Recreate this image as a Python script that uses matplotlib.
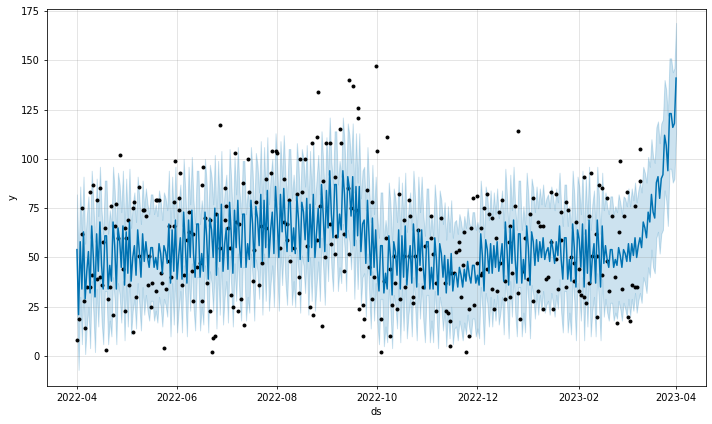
import matplotlib
matplotlib.use("Agg")
import matplotlib.pyplot as plt
import matplotlib.dates as mdates
import pandas as pd

start = pd.Timestamp("2022-04-01")

# forecast (yhat), one value per day from 2022-04-01 to 2023-04-01, rows of 7 days
yhat = [
    54, 21, 58, 34, 63, 29, 43,
    53, 32, 66, 50, 30, 62, 43,
    68, 46, 34, 61, 61, 34, 46,
    38, 68, 56, 34, 65, 59, 45,
    66, 36, 63, 42, 68, 38, 50,
    56, 41, 64, 53, 40, 62, 48,
    58, 50, 45, 55, 55, 45, 50,
    44, 57, 52, 42, 56, 53, 47,
    67, 37, 64, 43, 69, 39, 51,
    60, 39, 73, 57, 37, 69, 50,
    74, 52, 40, 67, 67, 40, 52,
    43, 73, 61, 39, 70, 64, 50,
    75, 41, 72, 48, 77, 43, 57,
    65, 44, 78, 62, 42, 74, 55,
    79, 57, 45, 72, 72, 45, 57,
    49, 79, 67, 45, 76, 70, 56,
    82, 48, 79, 55, 84, 50, 64,
    73, 52, 86, 70, 50, 82, 63,
    85, 65, 53, 78, 78, 53, 65,
    52, 81, 69, 49, 78, 73, 59,
    80, 48, 77, 55, 82, 50, 63,
    75, 55, 87, 72, 53, 84, 65,
    94, 72, 60, 87, 87, 60, 72,
    64, 94, 82, 60, 91, 85, 71,
    91, 56, 86, 61, 86, 53, 67,
    69, 47, 79, 60, 41, 70, 45,
    64, 44, 33, 56, 56, 32, 42,
    34, 61, 50, 31, 58, 53, 41,
    64, 34, 61, 40, 66, 36, 48,
    56, 37, 67, 53, 35, 64, 46,
    64, 45, 34, 58, 58, 34, 45,
    34, 60, 49, 31, 57, 52, 40,
    51, 32, 49, 36, 52, 33, 41,
    42, 35, 45, 41, 35, 44, 38,
    48, 41, 37, 46, 46, 37, 41,
    36, 62, 51, 33, 59, 54, 42,
    57, 42, 56, 45, 58, 43, 49,
    57, 38, 68, 54, 36, 65, 47,
    69, 49, 37, 62, 62, 37, 49,
    39, 66, 55, 36, 63, 58, 46,
    59, 48, 58, 50, 60, 49, 53,
    55, 48, 59, 54, 47, 58, 51,
    66, 49, 39, 60, 60, 39, 49,
    38, 67, 55, 35, 64, 59, 45,
    67, 35, 64, 42, 69, 37, 50,
    57, 37, 69, 54, 35, 66, 47,
    56, 49, 45, 54, 54, 45, 49,
    46, 55, 51, 45, 54, 52, 48,
    57, 48, 57, 51, 60, 50, 56,
    60, 55, 68, 65, 60, 73, 68,
    82, 73, 70, 88, 91, 80, 90,
    92, 112, 107, 94, 123, 123, 116,
    118, 141,
]

# half width of the uncertainty interval, per month (Apr 2022 .. Apr 2023)
band_half = [28, 27, 27, 27, 27, 27, 27, 27, 27, 27, 27, 28, 28]

# observed points: days after 2022-04-01 and value
obs_day = [
    0, 1, 3, 3, 4, 5, 6, 8, 8, 9, 10, 12, 12, 14, 14, 15, 16, 17, 18, 19,
    20, 21, 22, 23, 24, 25, 26, 28, 29, 29, 30, 31, 32, 34, 34, 35, 36, 38, 38, 40,
    41, 42, 43, 44, 45, 46, 48, 49, 48, 50, 51, 52, 53, 54, 56, 56, 57, 59, 59, 60,
    62, 62, 63, 64, 65, 67, 68, 68, 70, 71, 71, 73, 75, 76, 76, 77, 78, 79, 81, 81,
    82, 83, 84, 85, 87, 87, 90, 90, 91, 92, 93,
    94, 95, 96, 97, 98, 99, 100, 101, 102, 104, 105, 107, 108, 109, 111, 112, 113, 115, 115, 118,
    119, 121, 122, 124, 126, 126, 128, 128, 129, 130, 132, 134, 135, 135, 136, 137, 139, 140,
    142, 143, 144, 146, 146, 147, 148, 149, 150, 151, 152, 154, 154, 155, 157, 157, 158, 160, 161, 163,
    163, 165, 166, 166, 167, 168, 170, 171, 171, 172, 174, 174, 175, 177, 178, 180, 180, 181, 182, 183,
    185, 185,
    187, 188, 189, 191, 191, 192, 193, 194, 195, 196, 197, 199, 199, 200, 202, 202, 203, 205, 205, 206,
    208, 209, 211, 212, 216, 216, 217, 219, 219, 222, 224, 225, 226, 227, 227, 228, 230, 231, 233, 233,
    234, 235,
    236, 237, 239, 239, 240, 241, 242, 244, 244, 246, 246, 247, 248, 250, 250, 251, 253, 253, 254, 255,
    256, 257, 258, 259, 261, 261, 263, 264, 264, 265, 267, 269, 269, 270, 272, 273, 275, 276, 278, 278,
    281, 281, 282,
    284, 284, 286, 287, 289, 289, 290, 292, 292, 293, 295, 295, 298, 298, 299, 301, 303, 303, 304, 306,
    306, 307, 309, 309, 310, 312, 312, 313, 314, 316, 317, 317, 318, 320, 320, 323, 323, 324, 326, 328,
    329, 330,
    331, 332, 333, 335, 336, 337, 338, 340, 340, 341, 343, 343,
]
obs_y = [
    8, 19, 62, 75, 28, 14, 35, 83, 35, 41, 87, 39, 79, 40, 85, 36, 58, 65, 3, 29,
    35, 76, 21, 66, 77, 60, 102, 44, 65, 23, 60, 69, 36, 75, 12, 78, 30, 86, 51, 74,
    74, 71, 36, 51, 25, 37, 79, 79, 33, 79, 42, 37, 4, 34, 48, 66, 40, 78, 66, 99,
    80, 74, 93, 36, 41, 59, 63, 73, 43, 62, 28, 45, 47, 87, 28, 96, 70, 37, 69, 23,
    2, 9, 10, 72, 117, 55, 85, 69, 76, 65, 55,
    31, 25, 103, 68, 23, 67, 29, 88, 16, 100, 83, 38, 54, 78, 36, 66, 47, 65, 90, 93,
    104, 104, 103, 55, 90, 68, 67, 59, 79, 48, 55, 82, 40, 32, 100, 83, 100, 56,
    25, 108, 21, 111, 59, 134, 76, 15, 89, 50, 108, 108, 67, 57, 52, 91, 61, 115, 108, 62,
    43, 85, 52, 140, 75, 137, 74, 121, 126, 24, 26, 10, 19, 84, 45, 29, 78, 40, 147, 104,
    2, 19,
    38, 60, 111, 44, 10, 26, 51, 37, 24, 82, 29, 51, 69, 35, 79, 51, 71, 30, 27, 51,
    64, 44, 35, 56, 71, 60, 52, 23, 37, 70, 37, 23, 22, 5, 18, 42, 42, 53, 54, 58,
    30, 46,
    63, 2, 10, 24, 65, 80, 26, 81, 47, 41, 65, 42, 75, 82, 44, 72, 70, 34, 24, 60,
    33, 73, 47, 79, 38, 29, 58, 30, 66, 42, 76, 114, 32, 19, 43, 60, 39, 72, 80, 28,
    68, 33, 66,
    66, 24, 39, 40, 83, 58, 24, 49, 82, 34, 73, 59, 78, 35, 74, 50, 38, 47, 68, 44,
    33, 31, 91, 30, 27, 71, 37, 93, 51, 62, 51, 20, 87, 85, 41, 80, 48, 33, 71, 40,
    17, 63,
    99, 34, 71, 83, 20, 18, 36, 76, 35, 35, 89, 105,
]

fcst_t = [start + pd.Timedelta(days=i) for i in range(len(yhat))]
obs_t = [start + pd.Timedelta(days=d) for d in obs_day]
half = [band_half[(t.year - 2022) * 12 + t.month - 4] for t in fcst_t]
yhat_lower = [v - h for v, h in zip(yhat, half)]
yhat_upper = [v + h for v, h in zip(yhat, half)]

fig = plt.figure(figsize=(10, 424 / 71.2), dpi=71.2, facecolor="w")
ax = fig.add_subplot(111)
fig.subplots_adjust(left=0.066, right=0.9916, bottom=0.0896, top=0.9795)

ax.plot(obs_t, obs_y, "k.")
ax.plot(fcst_t, yhat, ls="-", c="#0072B2")
ax.fill_between(fcst_t, yhat_lower, yhat_upper, color="#0072B2", alpha=0.2)

ax.xaxis.set_major_locator(mdates.MonthLocator(bymonth=[2, 4, 6, 8, 10, 12]))
ax.xaxis.set_major_formatter(mdates.DateFormatter("%Y-%m"))
ax.set_ylim(-15.2, 176.2)
ax.grid(True, which="major", c="gray", ls="-", lw=1, alpha=0.2)
ax.set_xlabel("ds")
ax.set_ylabel("y")

fig.savefig("out.png", dpi=71.2)
